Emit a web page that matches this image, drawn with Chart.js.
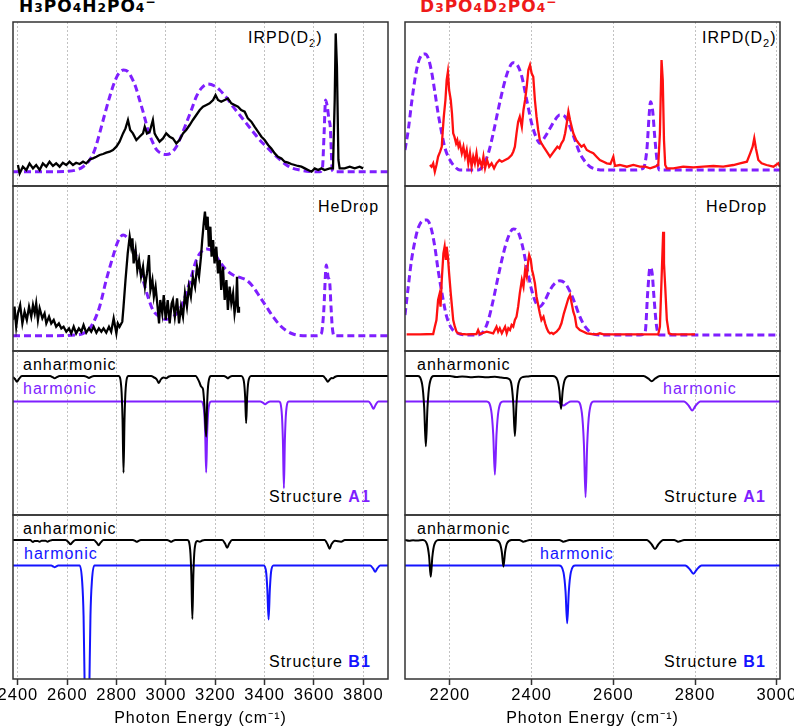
<!DOCTYPE html>
<html><head><meta charset="utf-8">
<script src="https://cdn.jsdelivr.net/npm/chart.js@4.4.0/dist/chart.umd.min.js"></script>
<style>
html,body{margin:0;padding:0;background:#fff;}
body{width:794px;height:728px;overflow:hidden;position:relative;font-family:"Liberation Sans",Arial,sans-serif;}
canvas{position:absolute;}
.lbl{position:absolute;font-size:16px;line-height:20px;letter-spacing:1px;white-space:nowrap;color:#000;}
.lbl sub{font-size:11px;vertical-align:0;position:relative;top:4px;line-height:0;}
.title{position:absolute;top:-3px;font-family:"DejaVu Sans",sans-serif;font-weight:bold;font-size:17px;line-height:18px;letter-spacing:1px;white-space:nowrap;}
.sb{font-size:0.72em;}
.sp{font-size:0.72em;position:relative;top:-0.5em;}
</style></head><body>
<div class="title" style="left:19px;color:#000">H<span class="sb">3</span>PO<span class="sb">4</span>H<span class="sb">2</span>PO<span class="sb">4</span><span class="sp">−</span></div>
<div class="title" style="left:420px;color:#ee1a1a">D<span class="sb">3</span>PO<span class="sb">4</span>D<span class="sb">2</span>PO<span class="sb">4</span><span class="sp">−</span></div>

<div class="lbl" style="left:248px;top:28px">IRPD(D<sub>2</sub>)</div>
<div class="lbl" style="left:702px;top:28px">IRPD(D<sub>2</sub>)</div>
<div class="lbl" style="left:318px;top:197px">HeDrop</div>
<div class="lbl" style="left:706px;top:197px">HeDrop</div>

<div class="lbl" style="left:23px;top:355px">anharmonic</div>
<div class="lbl" style="left:23px;top:379px;color:#7f1fff">harmonic</div>
<div class="lbl" style="left:269px;top:487px">Structure <b style="color:#7f1fff">A1</b></div>
<div class="lbl" style="left:417px;top:355px">anharmonic</div>
<div class="lbl" style="left:663px;top:379px;color:#7f1fff">harmonic</div>
<div class="lbl" style="left:664px;top:487px">Structure <b style="color:#7f1fff">A1</b></div>

<div class="lbl" style="left:23px;top:519px">anharmonic</div>
<div class="lbl" style="left:24px;top:544px;color:#1414ff">harmonic</div>
<div class="lbl" style="left:269px;top:652px">Structure <b style="color:#1414ff">B1</b></div>
<div class="lbl" style="left:417px;top:519px">anharmonic</div>
<div class="lbl" style="left:540px;top:544px;color:#1414ff">harmonic</div>
<div class="lbl" style="left:664px;top:652px">Structure <b style="color:#1414ff">B1</b></div>

<script>
// ---------- tick labels ----------
const leftTicks = [2400, 2600, 2800, 3000, 3200, 3400, 3600, 3800];
const rightTicks = [2200, 2400, 2600, 2800, 3000];

// ---------- H3PO4H2PO4- : IRPD(D2) experiment ----------
const irpdH_x = [2400,2407,2420,2434,2447,2461,2474,2488,2501,2515,2528,2542,2555,2569,2582,2596,2609,2623,2636,2650,2664,2677,2691,2704,2718,2731,2745,2758,2772,2785,2799,2812,2826,2836,2846,2855,2866,2880,2893,2907,2914,2923,2934,2947,2954,2961,2974,2988,3001,3015,3028,3042,3055,3069,3082,3096,3109,3123,3137,3150,3164,3177,3191,3201,3211,3224,3238,3251,3265,3278,3292,3305,3319,3332,3346,3359,3373,3387,3400,3414,3427,3441,3454,3468,3481,3495,3508,3522,3535,3549,3563,3576,3590,3603,3617,3630,3643,3664,3677,3684,3688,3693,3699,3704,3724,3745,3765,3785,3799];
const irpdH_y = [0.067,-0.017,0.05,0.017,0.083,0.033,0.067,0.017,0.083,0.05,0.1,0.057,0.083,0.05,0.09,0.067,0.1,0.067,0.09,0.077,0.1,0.083,0.123,0.133,0.15,0.167,0.177,0.19,0.2,0.217,0.25,0.3,0.383,0.433,0.517,0.417,0.383,0.317,0.35,0.383,0.45,0.383,0.4,0.517,0.383,0.35,0.3,0.333,0.383,0.35,0.333,0.283,0.317,0.383,0.417,0.467,0.517,0.567,0.617,0.65,0.667,0.683,0.717,0.767,0.717,0.7,0.717,0.733,0.683,0.667,0.65,0.617,0.6,0.533,0.5,0.45,0.4,0.35,0.317,0.267,0.233,0.183,0.15,0.133,0.1,0.09,0.077,0.067,0.057,0.05,0.033,0.017,0,0.033,0.017,0.033,0.017,0.033,0.033,0.717,1.383,1.05,0.117,0.033,0.033,0.05,0.033,0.05,0.033];
// calculated spectrum (dashed) for IRPD panel
const calcH1_x = [2380,2461,2528,2596,2636,2664,2691,2711,2731,2751,2772,2792,2809,2828,2846,2859,2877,2893,2911,2927,2945,2961,2981,3001,3022,3042,3062,3082,3103,3123,3143,3170,3197,3218,3245,3272,3299,3326,3353,3380,3407,3434,3461,3488,3515,3542,3582,3623,3634,3641,3647,3654,3661,3666,3670,3674,3684,3812,3900];
const calcH1_y = [0,0,0,0.003,0.017,0.05,0.117,0.217,0.383,0.567,0.75,0.9,0.983,1.017,1.0,0.95,0.85,0.717,0.567,0.417,0.3,0.223,0.183,0.173,0.19,0.25,0.357,0.483,0.617,0.75,0.833,0.877,0.857,0.817,0.743,0.65,0.567,0.483,0.4,0.317,0.25,0.183,0.123,0.067,0.033,0.017,0.003,0,0.033,0.383,0.717,0.65,0.517,0.45,0.217,0.017,0,0,0];

// ---------- H3PO4H2PO4- : HeDrop experiment ----------
const heH_x = [2380,2386,2393,2400,2409,2418,2427,2436,2445,2454,2461,2468,2474,2481,2488,2499,2508,2515,2526,2535,2545,2555,2566,2576,2585,2596,2607,2616,2626,2636,2647,2657,2666,2677,2688,2697,2707,2718,2728,2738,2747,2758,2769,2778,2788,2799,2805,2812,2823,2828,2836,2845,2853,2859,2864,2869,2877,2884,2891,2899,2907,2915,2923,2931,2937,2945,2951,2958,2966,2972,2977,2985,2991,2999,3007,3015,3023,3028,3036,3045,3053,3061,3069,3077,3085,3093,3101,3109,3118,3126,3134,3142,3147,3153,3158,3164,3169,3174,3180,3185,3191,3197,3204,3211,3218,3224,3231,3238,3245,3251,3258,3265,3272,3278,3285,3288,3292,3296];
const heH_y = [0.157,0.29,0.09,0.223,0.307,0.123,0.24,0.157,0.29,0.19,0.307,0.223,0.323,0.157,0.273,0.173,0.223,0.123,0.19,0.123,0.157,0.09,0.123,0.073,0.09,0.04,0.073,0.023,0.09,0.023,0.073,0.04,0.107,0.03,0.073,0.04,0.09,0.03,0.073,0.04,0.073,0.03,0.09,0.04,0.173,0.023,0.123,0.09,0.14,0.29,0.557,0.823,0.99,0.89,0.973,0.723,0.857,0.657,0.757,0.59,0.69,0.49,0.623,0.807,0.457,0.557,0.39,0.49,0.29,0.123,0.357,0.223,0.407,0.157,0.357,0.123,0.323,0.357,0.19,0.373,0.123,0.29,0.19,0.423,0.29,0.49,0.39,0.59,0.49,0.69,0.59,0.79,0.957,1.123,1.24,1.057,1.19,0.89,1.09,0.79,0.957,0.723,0.89,0.623,0.757,0.457,0.69,0.357,0.557,0.257,0.49,0.323,0.423,0.223,0.357,0.59,0.24,0.29];
const calcH2_x = [2380,2528,2636,2677,2704,2731,2758,2785,2805,2826,2846,2866,2886,2907,2927,2947,2974,3001,3028,3055,3082,3103,3123,3143,3166,3191,3218,3245,3272,3299,3326,3353,3380,3407,3434,3461,3488,3515,3542,3610,3630,3639,3650,3657,3664,3669,3674,3681,3900];
const calcH2_y = [0,0,0.007,0.04,0.123,0.29,0.557,0.79,0.94,1.007,0.973,0.89,0.74,0.557,0.39,0.257,0.19,0.163,0.19,0.257,0.423,0.59,0.757,0.84,0.867,0.84,0.74,0.657,0.607,0.583,0.557,0.49,0.39,0.29,0.19,0.107,0.05,0.017,0.003,0,0.023,0.223,0.707,0.59,0.523,0.29,0.09,0,0];

// ---------- D3PO4D2PO4- : IRPD(D2) experiment ----------
const irpdD_x = [2151,2155,2159,2163,2167,2171,2176,2180,2182,2185,2189,2192,2195,2198,2202,2205,2208,2211,2215,2218,2221,2224,2229,2233,2237,2241,2245,2249,2253,2257,2261,2265,2269,2273,2278,2282,2286,2291,2296,2302,2308,2314,2321,2327,2335,2343,2351,2355,2359,2363,2367,2371,2376,2380,2384,2388,2392,2396,2400,2404,2408,2412,2416,2420,2424,2429,2437,2445,2451,2457,2463,2468,2473,2478,2482,2486,2490,2494,2498,2502,2509,2515,2522,2528,2535,2543,2551,2559,2567,2576,2584,2593,2600,2604,2616,2633,2649,2665,2678,2690,2702,2710,2714,2718,2721,2724,2727,2731,2747,2771,2796,2820,2845,2869,2894,2910,2927,2935,2941,2945,2949,2955,2963,2975,2992,3004,3008];
const irpdD_y = [0.05,0.033,0.067,-0.017,0.05,0.133,0.183,0.233,0.367,0.533,0.7,0.9,0.983,0.8,0.7,0.567,0.367,0.333,0.267,0.3,0.233,0.267,0.167,0.233,0.133,0.2,0.067,0.167,0.033,0.133,0.067,0.167,0.05,0.1,0.033,0.133,0.017,0.1,0.033,0.067,0.017,0.067,0.1,0.083,0.1,0.117,0.15,0.183,0.233,0.367,0.483,0.533,0.433,0.6,0.7,0.833,1.0,1.05,0.967,0.933,0.7,0.533,0.4,0.3,0.267,0.233,0.183,0.133,0.167,0.2,0.233,0.217,0.267,0.3,0.367,0.467,0.583,0.5,0.433,0.367,0.3,0.267,0.233,0.25,0.2,0.183,0.167,0.133,0.1,0.083,0.067,0.06,0.133,0.04,0.05,0.033,0.05,0.033,0.033,0.017,0.033,0.05,0.367,1.1,0.9,0.3,0.05,0.017,0.017,0.033,0.027,0.033,0.04,0.033,0.05,0.067,0.083,0.167,0.233,0.317,0.217,0.1,0.067,0.05,0.033,0.067,0.033];
const calcD1_x = [2090,2098,2106,2114,2122,2131,2139,2147,2155,2163,2171,2180,2188,2200,2212,2224,2249,2269,2282,2294,2306,2318,2331,2343,2355,2365,2376,2388,2400,2412,2420,2433,2445,2457,2469,2482,2494,2506,2518,2531,2543,2559,2584,2649,2673,2682,2688,2691,2696,2702,2708,2713,3008];
const calcD1_y = [0.2,0.4,0.667,0.9,1.067,1.15,1.16,1.117,0.983,0.783,0.567,0.367,0.217,0.1,0.033,0,0,0,0.05,0.167,0.367,0.6,0.833,1.0,1.073,1.05,0.933,0.7,0.467,0.317,0.267,0.333,0.417,0.5,0.55,0.533,0.433,0.3,0.167,0.083,0.033,0.007,0,0,0.017,0.2,0.567,0.683,0.6,0.3,0.067,0,0];

// ---------- D3PO4D2PO4- : HeDrop experiment ----------
const heD_x = [2094,2127,2159,2163,2167,2171,2174,2177,2180,2184,2187,2190,2192,2195,2198,2202,2205,2208,2212,2216,2220,2229,2241,2265,2269,2273,2290,2306,2314,2318,2322,2327,2335,2339,2343,2347,2351,2355,2359,2363,2367,2371,2376,2380,2384,2388,2392,2394,2398,2401,2404,2408,2412,2416,2420,2424,2429,2433,2437,2441,2445,2449,2453,2461,2468,2473,2479,2484,2490,2494,2498,2502,2506,2510,2518,2527,2535,2547,2559,2567,2576,2710,2714,2718,2722,2724,2727,2731,2736,2743,2800];
const heD_y = [0.007,0.007,0.01,0.083,0.15,0.35,0.4,0.283,0.55,0.817,0.883,0.75,0.883,0.783,0.617,0.417,0.283,0.15,0.083,0.033,0.017,0.01,0.007,0.01,0.05,0.01,0.033,0.017,0.083,0.033,0.067,0.017,0.083,0.017,0.067,0.05,0.1,0.083,0.15,0.183,0.283,0.417,0.55,0.483,0.65,0.583,0.75,0.8,0.75,0.65,0.6,0.517,0.383,0.3,0.217,0.15,0.183,0.117,0.067,0.033,0.017,0.023,0.01,0.033,0.067,0.117,0.217,0.283,0.367,0.4,0.317,0.233,0.183,0.083,0.05,0.033,0.017,0.01,0.007,0.017,0.007,0.007,0.083,0.55,1.033,0.717,0.483,0.15,0.017,0.007,0.007];
const calcD2_x = [2090,2098,2106,2114,2122,2133,2143,2153,2163,2171,2182,2192,2204,2220,2241,2265,2282,2294,2306,2318,2331,2343,2355,2365,2376,2388,2400,2411,2420,2433,2445,2457,2469,2482,2494,2506,2518,2531,2547,2567,2665,2678,2684,2690,2695,2700,2706,2713,3008];
const calcD2_y = [0.2,0.483,0.75,0.933,1.067,1.143,1.15,1.083,0.883,0.65,0.383,0.183,0.067,0.017,0,0,0.033,0.15,0.35,0.583,0.817,0.983,1.06,1.043,0.917,0.683,0.45,0.317,0.283,0.35,0.45,0.517,0.543,0.517,0.433,0.317,0.183,0.083,0.017,0,0,0.033,0.417,0.677,0.617,0.35,0.083,0,0];

// ---------- Structure A1 (anharmonic / harmonic), intensities ----------
const anhA1H_x = [2380,2388,2396,2404,2416,2530,2541,2549,2557,2569,2668,2680,2688,2696,2708,2808,2819,2824,2828,2832,2837,2848,2940,2952,2958,2964,2971,2979,2990,3001,3012,3020,3120,3135,3143,3150,3156,3163,3167,3172,3183,3235,3245,3251,3257,3268,3305,3316,3321,3325,3329,3334,3345,3636,3648,3656,3664,3672,3677,3684,3697,3900];
const anhA1H_y = [0.01,0.03,0.057,0.03,0,0,0.012,0.023,0.012,0,0,0.01,0.02,0.01,0,0,0.116,0.435,0.967,0.435,0.116,0,0,0.015,0.023,0.04,0.07,0.035,0.015,0.023,0.005,0,0,0.06,0.107,0.13,0.3,0.607,0.27,0.07,0,0,0.012,0.023,0.012,0,0,0.057,0.213,0.473,0.213,0.057,0,0,0.03,0.057,0.035,0.02,0.023,0.01,0,0];
const harmA1H_x = [2380,3143,3154,3159,3163,3167,3172,3183,3382,3394,3402,3410,3422,3458,3469,3474,3478,3482,3487,3498,3821,3833,3841,3849,3861,3900];
const harmA1H_y = [0,0,0.085,0.32,0.71,0.32,0.085,0,0,0.014,0.027,0.014,0,0,0.104,0.39,0.867,0.39,0.104,0,0,0.037,0.073,0.037,0,0];
const anhA1D_x = [2090,2121,2132,2137,2141,2145,2150,2161,2200,2215,2230,2250,2270,2290,2310,2325,2336,2343,2350,2355,2359,2363,2368,2379,2390,2400,2452,2463,2468,2472,2476,2481,2492,2674,2686,2694,2702,2714,3008];
const anhA1D_y = [0,0,0.084,0.316,0.703,0.316,0.084,0,0,0.01,0.005,0.012,0.008,0.012,0.008,0.015,0.02,0.027,0.072,0.27,0.6,0.27,0.072,0.01,0.005,0,0,0.04,0.15,0.33,0.15,0.04,0,0,0.027,0.053,0.027,0,0];
const harmA1D_x = [2090,2290,2301,2306,2310,2314,2319,2330,2460,2470,2478,2486,2496,2512,2523,2528,2532,2536,2541,2552,2773,2785,2793,2801,2813,3008];
const harmA1D_y = [0,0,0.088,0.33,0.733,0.33,0.088,0,0,0.02,0.04,0.02,0,0,0.115,0.43,0.957,0.43,0.115,0,0,0.045,0.09,0.045,0,0];

// ---------- Structure B1 (anharmonic / harmonic), intensities ----------
const anhB1H_x = [2380,2450,2456,2461,2467,2480,2488,2496,2512,2520,2528,2540,2593,2605,2613,2621,2633,2707,2719,2727,2735,2747,2866,2876,2882,2888,2898,3005,3015,3021,3027,3037,3087,3098,3103,3107,3111,3116,3127,3137,3147,3157,3228,3240,3248,3256,3268,3643,3655,3663,3671,3685,3710,3725,3900];
const anhB1H_y = [0,0,0.012,0.02,0.01,0.01,0.017,0.008,0.008,0.017,0.008,0,0,0.022,0.043,0.022,0,0,0.027,0.053,0.027,0,0,0.01,0.017,0.01,0,0,0.01,0.017,0.01,0,0,0.095,0.355,0.79,0.355,0.095,0.01,0.017,0.005,0,0,0.038,0.077,0.038,0,0,0.043,0.087,0.043,0.008,0.017,0,0];
const harmB1H_x = [2380,2535,2543,2549,2555,2563,2650,2660,2666,2671,2680,2689,2694,2700,2710,3396,3406,3411,3416,3421,3426,3436,3828,3840,3848,3856,3868,3900];
const harmB1H_y = [0,0,0.01,0.017,0.01,0,0,0.15,0.5,1.3,2.5,1.3,0.5,0.15,0,0,0.065,0.243,0.54,0.243,0.065,0,0,0.032,0.063,0.032,0,0];
const anhB1D_x = [2090,2100,2110,2120,2133,2144,2149,2153,2157,2162,2173,2311,2322,2327,2331,2335,2340,2351,2370,2376,2380,2386,2395,2468,2474,2478,2484,2492,2682,2694,2702,2710,2722,2749,2755,2759,2765,2773,3008];
const anhB1D_y = [0,0.008,0.003,0.005,0,0.044,0.165,0.367,0.165,0.044,0,0,0.032,0.12,0.267,0.12,0.032,0,0,0.01,0.017,0.01,0,0,0.01,0.017,0.01,0,0,0.045,0.09,0.045,0,0,0.01,0.017,0.01,0,0];
const harmB1D_x = [2090,2467,2478,2483,2487,2491,2496,2507,2776,2788,2796,2804,2816,3008];
const harmB1D_y = [0,0,0.069,0.26,0.577,0.26,0.069,0,0,0.042,0.083,0.042,0,0];

// ---------- layout & style (not data) ----------
const BLACK = '#000000', RED = '#ff1010', PURPLE = '#7f1fff', BLUE = '#1414ff';
const GEOM = {
  L: {left: 13, right: 388, min: 2380, max: 3900, ticks: leftTicks},
  R: {left: 405, right: 780, min: 2090, max: 3008, ticks: rightTicks}
};
const ROWS = [22, 186, 351, 515, 679];
const PADX = 18, PADY = 3, AXIS_H = 49;
const ANH_OFF = -0.25, HARM_OFF = -0.505;

const framePlugin = {
  id: 'frame',
  afterDraw(chart) {
    const {ctx, chartArea: a} = chart;
    ctx.save();
    ctx.strokeStyle = '#333';
    ctx.lineWidth = 1.5;
    ctx.setLineDash([]);
    ctx.strokeRect(a.left, a.top, a.right - a.left, a.bottom - a.top);
    ctx.restore();
  }
};
const spacingPlugin = {
  id: 'spacing',
  beforeDraw(chart) { try { chart.ctx.letterSpacing = '1px'; } catch (e) {} }
};

function series(xs, ys, color, style, offset, sign) {
  const off = offset || 0, sg = sign || 1;
  return Object.assign({
    data: xs.map((x, i) => ({x: x, y: off + sg * ys[i]})),
    borderColor: color, borderWidth: 2.3, pointRadius: 0, fill: false, tension: 0
  }, style || {});
}
const DASHED = {borderWidth: 3, borderDash: [7, 4], cubicInterpolationMode: 'monotone'};
const STICK = {borderWidth: 2, cubicInterpolationMode: 'monotone'};

function makeChart(col, row, yMin, yMax, datasets) {
  const c = GEOM[col];
  const top = ROWS[row], bot = ROWS[row + 1];
  const isBottom = row === 3;
  const w = c.right - c.left + 2 * PADX;
  const h = (bot - top) + PADY + (isBottom ? AXIS_H : PADY);
  const cv = document.createElement('canvas');
  cv.width = w; cv.height = h;
  cv.style.left = (c.left - PADX) + 'px';
  cv.style.top = (top - PADY) + 'px';
  cv.style.width = w + 'px'; cv.style.height = h + 'px';
  document.body.appendChild(cv);
  new Chart(cv, {
    type: 'line',
    data: {datasets: datasets},
    options: {
      animation: false, responsive: false, maintainAspectRatio: false, events: [],
      layout: {padding: {left: PADX, right: PADX, top: PADY, bottom: isBottom ? 0 : PADY}},
      plugins: {legend: {display: false}, tooltip: {enabled: false}},
      elements: {point: {radius: 0}},
      scales: {
        x: {
          type: 'linear', min: c.min, max: c.max,
          afterBuildTicks: s => { s.ticks = c.ticks.map(v => ({value: v})); },
          afterFit: s => { s.height = isBottom ? AXIS_H : 0; },
          grid: {color: '#c2c2c2', lineWidth: 1, borderDash: [2, 2], drawTicks: isBottom,
                 tickLength: 6, tickColor: '#333', tickWidth: 1.5, tickBorderDash: []},
          border: {display: false, dash: [2, 2]},
          ticks: {display: isBottom, autoSkip: false, maxRotation: 0, minRotation: 0, padding: 1,
                  color: '#000', font: {family: 'Liberation Sans', size: 16.5},
                  callback: v => String(v)},
          title: {display: isBottom, text: 'Photon Energy (cm⁻¹)', color: '#000',
                  font: {family: 'Liberation Sans', size: 16}, padding: {top: 0, bottom: 0}}
        },
        y: {type: 'linear', display: false, min: yMin, max: yMax}
      }
    },
    plugins: [framePlugin, spacingPlugin]
  });
}

// Row 1: IRPD(D2)
makeChart('L', 0, -0.143, 1.497, [
  series(irpdH_x, irpdH_y, BLACK),
  series(calcH1_x, calcH1_y, PURPLE, DASHED)
]);
makeChart('R', 0, -0.16, 1.48, [
  series(irpdD_x, irpdD_y, RED),
  series(calcD1_x, calcD1_y, PURPLE, DASHED)
]);
// Row 2: HeDrop
makeChart('L', 1, -0.153, 1.497, [
  series(heH_x, heH_y, BLACK),
  series(calcH2_x, calcH2_y, PURPLE, DASHED)
]);
makeChart('R', 1, -0.16, 1.49, [
  series(heD_x, heD_y, RED),
  series(calcD2_x, calcD2_y, PURPLE, DASHED)
]);
// Row 3: Structure A1
makeChart('L', 2, -1.64, 0, [
  series(anhA1H_x, anhA1H_y, BLACK, STICK, ANH_OFF, -1),
  series(harmA1H_x, harmA1H_y, PURPLE, STICK, HARM_OFF, -1)
]);
makeChart('R', 2, -1.64, 0, [
  series(anhA1D_x, anhA1D_y, BLACK, STICK, ANH_OFF, -1),
  series(harmA1D_x, harmA1D_y, PURPLE, STICK, HARM_OFF, -1)
]);
// Row 4: Structure B1
makeChart('L', 3, -1.64, 0, [
  series(anhB1H_x, anhB1H_y, BLACK, STICK, ANH_OFF, -1),
  series(harmB1H_x, harmB1H_y, BLUE, STICK, HARM_OFF, -1)
]);
makeChart('R', 3, -1.64, 0, [
  series(anhB1D_x, anhB1D_y, BLACK, STICK, ANH_OFF, -1),
  series(harmB1D_x, harmB1D_y, BLUE, STICK, HARM_OFF, -1)
]);
</script>
</body></html>
